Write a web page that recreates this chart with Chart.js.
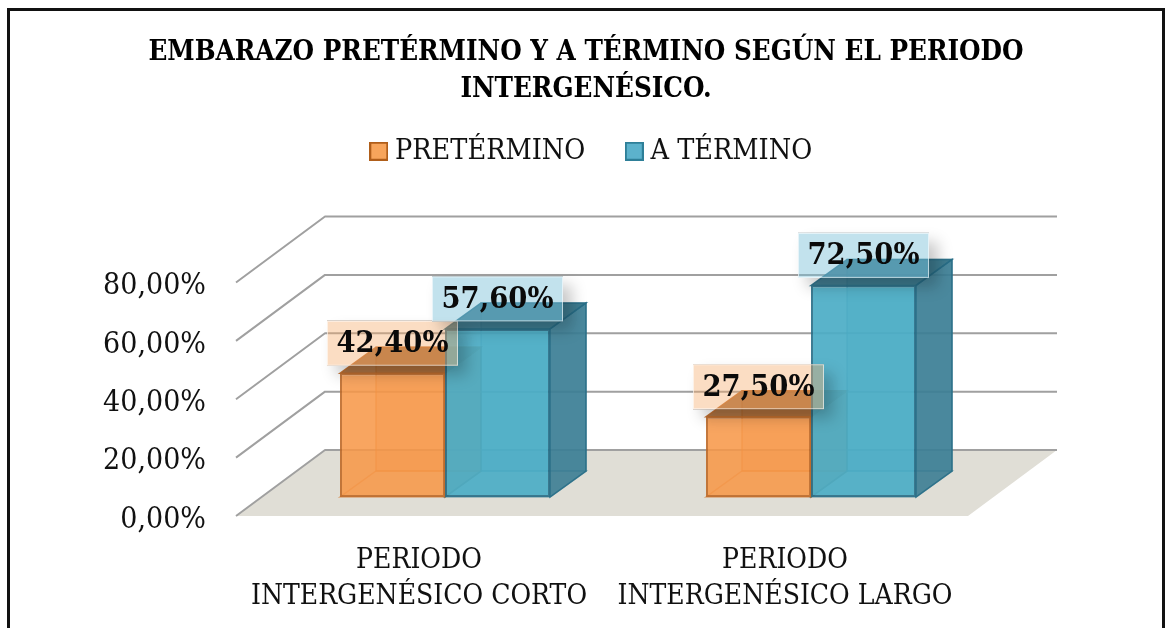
<!DOCTYPE html>
<html>
<head>
<meta charset="utf-8">
<style>
html,body{margin:0;padding:0;background:#fff;width:1165px;height:628px;overflow:hidden}
#frame{position:absolute;left:7px;top:8px;width:1152px;height:700px;border:3px solid #111;box-sizing:content-box;pointer-events:none}
#wrap{position:absolute;left:0;top:0;width:1165px;height:628px}
canvas{filter:blur(0.45px)}
</style>
<script src="https://cdn.jsdelivr.net/npm/chart.js@4/dist/chart.umd.min.js"></script>
</head>
<body>
<div id="wrap"><canvas id="c" width="1165" height="628"></canvas></div>
<div id="frame"></div>
<script>
const categories = [["PERIODO","INTERGENÉSICO CORTO"],["PERIODO","INTERGENÉSICO LARGO"]];
const pretermino = [42.4, 27.5];
const aTermino = [57.6, 72.5];
const seriesNames = ["PRETÉRMINO","A TÉRMINO"];
const titleLines = ["EMBARAZO PRETÉRMINO Y A TÉRMINO SEGÚN EL PERIODO","INTERGENÉSICO."];
const fmt = v => v.toFixed(2).replace('.',',') + '%';

const FONT = '"DejaVu Serif Condensed","DejaVu Serif",serif';
const styles = [
  {front:'rgba(247,150,70,0.86)',edge:'rgba(190,105,40,0.9)',top:'rgba(160,92,36,0.86)',side:'rgba(190,112,50,0.55)',inner:'rgba(214,120,44,0.55)',
   legFill:'#F7A55C',legEdge:'#B05E1A',label:'rgba(246,170,105,0.40)'},
  {front:'rgba(75,172,198,0.92)',edge:'rgba(40,110,135,0.9)',top:'rgba(50,114,136,0.92)',side:'rgba(60,125,148,0.90)',inner:'rgba(40,115,140,0.45)',
   legFill:'#5CB2CC',legEdge:'#2E7F98',label:'rgba(120,190,215,0.45)'}
];
const BAR = {dx:26, dy:-19, depthX:36, depthY:-26};
const WALL = {dx:89, dy:-66, right:1057};

function legendSwatch(s){
  const cv=document.createElement('canvas');cv.width=19;cv.height=19;
  const g=cv.getContext('2d');
  g.fillStyle=s.legFill;g.fillRect(0,0,19,19);
  g.strokeStyle=s.legEdge;g.lineWidth=2;g.strokeRect(1,1,17,17);
  return cv;
}
function poly(ctx,pts,fill,stroke,lw){
  ctx.beginPath();
  pts.forEach((p,i)=>i?ctx.lineTo(p[0],p[1]):ctx.moveTo(p[0],p[1]));
  ctx.closePath();
  if(fill){ctx.fillStyle=fill;ctx.fill();}
  if(stroke){ctx.strokeStyle=stroke;ctx.lineWidth=lw||1;ctx.stroke();}
}
const scene = {
  id:'scene',
  afterLayout(chart){
    const t=chart.titleBlock, l=chart.legend;
    t.top=34; t.left=0; t.right=1172;
    l.top=90; l.left=0; l.right=1189;
  },
  beforeDatasetsDraw(chart){
    const ctx=chart.ctx, y=chart.scales.y, a=chart.chartArea;
    const y0=y.getPixelForValue(0);
    poly(ctx,[[a.left,y0],[a.left+WALL.dx,y0+WALL.dy],[WALL.right,y0+WALL.dy],[WALL.right-WALL.dx,y0]],'#E0DED6');
    ctx.save();
    ctx.strokeStyle='#A0A0A0';ctx.lineWidth=2;ctx.lineJoin='round';
    y.ticks.forEach(t=>{
      const p=y.getPixelForValue(t.value);
      ctx.beginPath();ctx.moveTo(a.left,p);ctx.lineTo(a.left+WALL.dx,p+WALL.dy);ctx.lineTo(WALL.right,p+WALL.dy);ctx.stroke();
    });
    ctx.restore();
    chart.data.datasets.forEach((ds,i)=>{
      const s=styles[i];
      chart.getDatasetMeta(i).data.forEach(el=>{
        const w=el.width/2, x0=el.x-w+BAR.dx, x1=el.x+w+BAR.dx, t=el.y+BAR.dy, b=el.base+BAR.dy;
        const X=BAR.depthX, Y=BAR.depthY;
        poly(ctx,[[x0+X,t+Y],[x1+X,t+Y],[x1+X,b+Y],[x0+X,b+Y]],s.front.replace(/[\d.]+\)$/,'0.30)'),s.inner,1.5);
        poly(ctx,[[x0,b],[x1,b],[x1+X,b+Y],[x0+X,b+Y]],null,s.inner,1.5);
        poly(ctx,[[x1,t],[x1+X,t+Y],[x1+X,b+Y],[x1,b]],s.side,s.edge,1.5);
        poly(ctx,[[x0,t],[x1,t],[x1+X,t+Y],[x0+X,t+Y]],s.top,s.edge,1.5);
      });
    });
    ctx.save();
    ctx.translate(BAR.dx,BAR.dy);
  },
  afterDatasetsDraw(chart){
    const ctx=chart.ctx;
    ctx.restore();
    const W=131,H=45;
    chart.data.datasets.forEach((ds,i)=>{
      const s=styles[i];
      chart.getDatasetMeta(i).data.forEach((el,k)=>{
        const cx=el.x+BAR.dx, cy=el.y+BAR.dy-30, x=cx-W/2, yy=cy-H/2;
        ctx.save();
        ctx.beginPath();ctx.rect(0,0,1165,628);ctx.rect(x,yy,W,H);ctx.clip('evenodd');
        ctx.shadowColor='rgba(0,0,0,0.22)';ctx.shadowBlur=14;ctx.shadowOffsetX=9;ctx.shadowOffsetY=9;
        ctx.fillStyle='#000';ctx.fillRect(x,yy,W,H);
        ctx.restore();
        ctx.fillStyle=s.label;ctx.fillRect(x,yy,W,H);
        ctx.strokeStyle='rgba(255,255,255,0.6)';ctx.lineWidth=1;ctx.strokeRect(x+.5,yy+.5,W-1,H-1);
        ctx.fillStyle='#0a0a0a';ctx.font='bold 30.5px '+FONT;ctx.textAlign='center';ctx.textBaseline='middle';
        ctx.fillText(fmt(ds.data[k]),cx,cy+1);
      });
    });
  }
};
new Chart(document.getElementById('c'),{
  type:'bar',
  data:{labels:categories,datasets:[
    {label:seriesNames[0],data:pretermino,backgroundColor:styles[0].front,borderColor:styles[0].edge,borderWidth:2,borderSkipped:false,clip:false},
    {label:seriesNames[1],data:aTermino,backgroundColor:styles[1].front,borderColor:styles[1].edge,borderWidth:2,borderSkipped:false,clip:false}
  ]},
  options:{
    responsive:false,animation:false,
    layout:{autoPadding:false,padding:{left:0,right:197,top:0,bottom:0}},
    datasets:{bar:{categoryPercentage:210/366,barPercentage:1}},
    scales:{
      x:{grid:{display:false},border:{display:false},
        ticks:{padding:19,color:'#111',maxRotation:0,autoSkip:false,font:{family:FONT,size:28,lineHeight:'36px'}},
        afterFit(s){s.height=112;}},
      y:{min:0,max:80,grid:{display:false},border:{display:false},
        ticks:{stepSize:20,padding:22,color:'#111',labelOffset:4,callback:v=>fmt(v),font:{family:FONT,size:30}},
        afterFit(s){s.width=236;}}
    },
    plugins:{
      tooltip:{enabled:false},
      title:{display:true,text:titleLines,color:'#000',padding:{top:0,bottom:123},font:{family:FONT,size:27.5,weight:'bold',lineHeight:'37px'}},
      legend:{display:true,position:'top',labels:{
        usePointStyle:true,boxWidth:4,boxHeight:4,padding:47,color:'#111',
        font:{family:FONT,size:28.5,lineHeight:'36px'},
        generateLabels(chart){
          return chart.data.datasets.map((d,i)=>({text:d.label,datasetIndex:i,pointStyle:legendSwatch(styles[i]),fontColor:'#111',fillStyle:styles[i].legFill,strokeStyle:styles[i].legEdge,lineWidth:0}));
        }
      }}
    }
  },
  plugins:[scene]
});
</script>
</body>
</html>
